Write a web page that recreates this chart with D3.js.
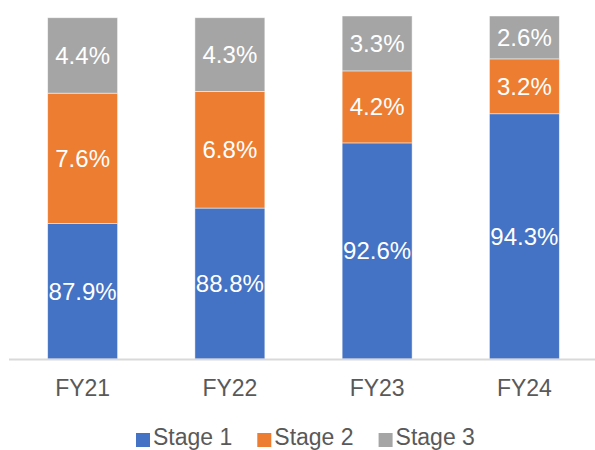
<!DOCTYPE html>
<html>
<head>
<meta charset="utf-8">
<script src="https://cdn.jsdelivr.net/npm/d3@7"></script>
<style>
  body { margin: 0; background: #fff; }
  svg { display: block; font-family: "Liberation Sans", Arial, sans-serif; }
</style>
</head>
<body>
<div id="bars"></div>
<script>
const years = ["FY21", "FY22", "FY23", "FY24"];
const stage1 = [87.9, 88.8, 92.6, 94.3];
const stage2 = [7.6, 6.8, 4.2, 3.2];
const stage3 = [4.4, 4.3, 3.3, 2.6];
const stageNames = ["Stage 1", "Stage 2", "Stage 3"];
const stageColors = ["#4472C4", "#ED7D31", "#A5A5A5"];
const yDomain = [80, 100];

const width = 595;
const height = 450;

const data = years.map((y, i) => ({
  year: y, s1: stage1[i], s2: stage2[i], s3: stage3[i]
}));
const keys = ["s1", "s2", "s3"];

const svg = d3.select("#bars")
  .append("svg")
    .attr("width", width)
    .attr("height", height)
    .attr("viewBox", [0, 0, width, height]);

const xScale = d3.scaleBand()
  .domain(years)
  .range([9, 598])
  .paddingInner(0.525)
  .paddingOuter(0.2625);

// axis starts at 80%, values above 100% get clipped like in the source chart
const yScale = d3.scaleLinear()
  .domain(yDomain)
  .range([359, 16])
  .clamp(true);

const colorScale = d3.scaleOrdinal().domain(keys).range(stageColors);

const stacked = d3.stack().keys(keys)(data);

// bars
stacked.forEach(series => {
  svg.selectAll(`.bar-${series.key}`)
    .data(series)
    .join("rect")
      .attr("class", `bar-${series.key}`)
      .attr("x", d => xScale(d.data.year))
      .attr("y", d => yScale(d[1]))
      .attr("width", xScale.bandwidth())
      .attr("height", d => yScale(d[0]) - yScale(d[1]))
      .attr("fill", colorScale(series.key))
      .attr("stroke", "#fff")
      .attr("stroke-opacity", 0.6)
      .attr("stroke-width", 0.8);
});

// value labels
stacked.forEach(series => {
  svg.selectAll(`.lbl-${series.key}`)
    .data(series)
    .join("text")
      .attr("class", `lbl-${series.key}`)
      .attr("x", d => xScale(d.data.year) + xScale.bandwidth() / 2)
      .attr("y", d => (yScale(d[0]) + yScale(d[1])) / 2)
      .attr("dy", "0.35em")
      .attr("text-anchor", "middle")
      .attr("fill", "#fff")
      .attr("font-size", 24)
      .text(d => d3.format(".1f")(d[1] - d[0]) + "%");
});

// x axis
const bottomAxis = d3.axisBottom(xScale).tickSize(0).tickPadding(20);
const xAxis = svg.append("g")
  .attr("transform", "translate(0, 359.5)")
  .call(bottomAxis);
xAxis.select(".domain").attr("stroke", "#d9d9d9").attr("stroke-width", 2)
  .attr("d", `M9,0H${width}`);
xAxis.selectAll("text")
  .attr("font-size", 23)
  .attr("fill", "#595959")
  .attr("font-family", "'Liberation Sans', Arial, sans-serif");

// legend
const legend = svg.append("g").attr("transform", "translate(136, 445)");
let lx = 0;
stageNames.forEach((name, i) => {
  const g = legend.append("g").attr("transform", `translate(${lx}, 0)`);
  g.append("rect")
    .attr("x", 0).attr("y", -12)
    .attr("width", 14).attr("height", 14)
    .attr("fill", stageColors[i]);
  const t = g.append("text")
    .attr("x", 17).attr("y", 0)
    .attr("font-size", 23)
    .attr("fill", "#595959")
    .text(name);
  lx += 17 + t.node().getComputedTextLength() + 25;
});
</script>
</body>
</html>
